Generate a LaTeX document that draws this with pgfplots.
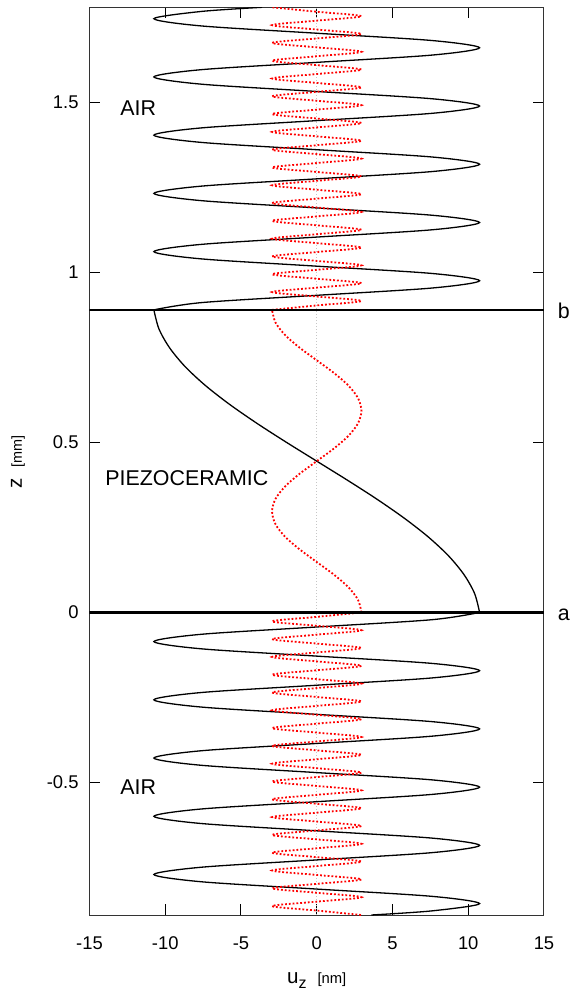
\documentclass[border=0pt]{standalone}
\usepackage{fontspec}
\setmainfont{Liberation Sans}
\usepackage{pgfplots}
\pgfplotsset{compat=1.18}

\begin{document}
\begin{tikzpicture}
\begin{axis}[
  at={(0pt,0pt)}, anchor=south west,
  scale only axis, width=227.25pt, height=453.85pt,
  xmin=-15, xmax=15, ymin=-0.89, ymax=1.78,
  xtick={-15,-10,-5,0,5,10,15},
  ytick={-0.5,0,0.5,1,1.5},
  tick align=inside, major tick length=5.3pt,
  axis line style={black!80, line width=0.5pt},
  tick style={black, line width=0.5pt},
  /pgf/number format/assume math mode=true,
  tick label style={font=\fontsize{9.2}{11}\selectfont, inner sep=0pt},
  xticklabel style={anchor=north, yshift=-10.5pt},
  yticklabel style={anchor=east, xshift=-5.3pt},
  reddot/.style={red, line width=0.9pt, dash pattern=on 0.9pt off 1.0pt, smooth},
]
% zero reference
\addplot[gray!45, line width=0.5pt, dash pattern=on 0.5pt off 1pt] coordinates {(0,-0.89) (0,1.78)};

% displacement amplitude, upper air layer
\addplot[black, line width=0.65pt, smooth] coordinates {
(-10.75,0.8900) (-7.60,0.9114) (0,0.9328) (7.60,0.9542) (10.75,0.9757) (7.60,0.9971) (0,1.0185) (-7.60,1.0399)
(-10.75,1.0613) (-7.60,1.0827) (0,1.1041) (7.60,1.1255) (10.75,1.1470) (7.60,1.1684) (0,1.1898) (-7.60,1.2112)
(-10.75,1.2326) (-7.60,1.2540) (0,1.2754) (7.60,1.2968) (10.75,1.3183) (7.60,1.3397) (0,1.3611) (-7.60,1.3825)
(-10.75,1.4039) (-7.60,1.4253) (0,1.4467) (7.60,1.4681) (10.75,1.4896) (7.60,1.5110) (0,1.5324) (-7.60,1.5538)
(-10.75,1.5752) (-7.60,1.5966) (0,1.6180) (7.60,1.6394) (10.75,1.6609) (7.60,1.6823) (0,1.7037) (-7.60,1.7251)
(-10.75,1.7465) (-7.60,1.7679) (-3.60,1.7800)};

% piezoceramic layer
\addplot[black, line width=0.65pt, smooth] coordinates {
(10.75,0) (10.42,0.0556) (9.72,0.1113) (8.69,0.1669) (7.35,0.2225) (5.75,0.2781) (3.95,0.3338) (2.01,0.3894)
(0,0.4450) (-2.01,0.5006) (-3.95,0.5563) (-5.75,0.6119) (-7.35,0.6675) (-8.69,0.7231) (-9.72,0.7788)
(-10.42,0.8344) (-10.75,0.8900)};

% lower air layer
\addplot[black, line width=0.65pt, smooth] coordinates {
(10.75,0) (7.60,-0.0214) (0,-0.0428) (-7.60,-0.0642) (-10.75,-0.0857) (-7.60,-0.1071) (0,-0.1285) (7.60,-0.1499)
(10.75,-0.1713) (7.60,-0.1927) (0,-0.2141) (-7.60,-0.2355) (-10.75,-0.2570) (-7.60,-0.2784) (0,-0.2998) (7.60,-0.3212)
(10.75,-0.3426) (7.60,-0.3640) (0,-0.3854) (-7.60,-0.4068) (-10.75,-0.4283) (-7.60,-0.4497) (0,-0.4711) (7.60,-0.4925)
(10.75,-0.5139) (7.60,-0.5353) (0,-0.5567) (-7.60,-0.5781) (-10.75,-0.5996) (-7.60,-0.6210) (0,-0.6424) (7.60,-0.6638)
(10.75,-0.6852) (7.60,-0.7066) (0,-0.7280) (-7.60,-0.7494) (-10.75,-0.7709) (-7.60,-0.7923) (0,-0.8137) (7.60,-0.8351)
(10.75,-0.8565) (7.60,-0.8779) (3.60,-0.8900)};

% second series (red dotted)
\addplot[reddot] coordinates {
(-2.95,0.8900) (0,0.9031) (2.95,0.9162) (0,0.9293) (-2.95,0.9424) (0,0.9554) (2.95,0.9685) (0,0.9816)
(-2.95,0.9947) (0,1.0078) (2.95,1.0209) (0,1.0340) (-2.95,1.0471) (0,1.0601) (2.95,1.0732) (0,1.0863)
(-2.95,1.0994) (0,1.1125) (2.95,1.1256) (0,1.1387) (-2.95,1.1518) (0,1.1649) (2.95,1.1779) (0,1.1910)
(-2.95,1.2041) (0,1.2172) (2.95,1.2303) (0,1.2434) (-2.95,1.2565) (0,1.2696) (2.95,1.2826) (0,1.2957)
(-2.95,1.3088) (0,1.3219) (2.95,1.3350) (0,1.3481) (-2.95,1.3612) (0,1.3743) (2.95,1.3874) (0,1.4004)
(-2.95,1.4135) (0,1.4266) (2.95,1.4397) (0,1.4528) (-2.95,1.4659) (0,1.4790) (2.95,1.4921) (0,1.5051)
(-2.95,1.5182) (0,1.5313) (2.95,1.5444) (0,1.5575) (-2.95,1.5706) (0,1.5837) (2.95,1.5968) (0,1.6099)
(-2.95,1.6229) (0,1.6360) (2.95,1.6491) (0,1.6622) (-2.95,1.6753) (0,1.6884) (2.95,1.7015) (0,1.7146)
(-2.95,1.7276) (0,1.7407) (2.95,1.7538) (0,1.7669) (-2.95,1.7800)};

\addplot[reddot] coordinates {
(2.95,0) (2.725,0.0371) (2.086,0.0742) (1.129,0.1113) (0,0.1483) (-1.129,0.1854) (-2.086,0.2225) (-2.725,0.2596)
(-2.95,0.2967) (-2.725,0.3338) (-2.086,0.3708) (-1.129,0.4079) (0,0.4450) (1.129,0.4821) (2.086,0.5192) (2.725,0.5562)
(2.95,0.5933) (2.725,0.6304) (2.086,0.6675) (1.129,0.7046) (0,0.7417) (-1.129,0.7787) (-2.086,0.8158) (-2.725,0.8529)
(-2.95,0.8900)};

\addplot[reddot] coordinates {
(2.95,0) (0,-0.0131) (-2.95,-0.0262) (0,-0.0393) (2.95,-0.0524) (0,-0.0654) (-2.95,-0.0785) (0,-0.0916)
(2.95,-0.1047) (0,-0.1178) (-2.95,-0.1309) (0,-0.1440) (2.95,-0.1571) (0,-0.1701) (-2.95,-0.1832) (0,-0.1963)
(2.95,-0.2094) (0,-0.2225) (-2.95,-0.2356) (0,-0.2487) (2.95,-0.2618) (0,-0.2749) (-2.95,-0.2879) (0,-0.3010)
(2.95,-0.3141) (0,-0.3272) (-2.95,-0.3403) (0,-0.3534) (2.95,-0.3665) (0,-0.3796) (-2.95,-0.3926) (0,-0.4057)
(2.95,-0.4188) (0,-0.4319) (-2.95,-0.4450) (0,-0.4581) (2.95,-0.4712) (0,-0.4843) (-2.95,-0.4974) (0,-0.5104)
(2.95,-0.5235) (0,-0.5366) (-2.95,-0.5497) (0,-0.5628) (2.95,-0.5759) (0,-0.5890) (-2.95,-0.6021) (0,-0.6151)
(2.95,-0.6282) (0,-0.6413) (-2.95,-0.6544) (0,-0.6675) (2.95,-0.6806) (0,-0.6937) (-2.95,-0.7068) (0,-0.7198)
(2.95,-0.7329) (0,-0.7460) (-2.95,-0.7591) (0,-0.7722) (2.95,-0.7853) (0,-0.7984) (-2.95,-0.8115) (0,-0.8246)
(2.95,-0.8376) (0,-0.8507) (-2.95,-0.8638) (0,-0.8769) (2.95,-0.8900)};

% layer interfaces
\addplot[black, line width=1.35pt] coordinates {(-15,0) (15,0)};
\addplot[black, line width=1.35pt] coordinates {(-15,0.89) (15,0.89)};

\node[anchor=west, inner sep=0pt, font=\fontsize{10.7}{12}\selectfont] at (axis cs:-12.99,1.4847) {AIR};
\node[anchor=west, inner sep=0pt, font=\fontsize{10.7}{12}\selectfont] at (axis cs:-12.99,-0.515) {AIR};
\node[anchor=west, inner sep=0pt, font=\fontsize{10.7}{12}\selectfont] at (axis cs:-13.98,0.394) {PIEZOCERAMIC};

\coordinate (pa) at (axis cs:15,0);
\coordinate (pb) at (axis cs:15,0.89);
\end{axis}

\node[anchor=base west, inner sep=0pt, font=\fontsize{10.7}{12}\selectfont] at ([xshift=6.8pt,yshift=-4.15pt]pb) {b};
\node[anchor=base west, inner sep=0pt, font=\fontsize{10.7}{12}\selectfont] at ([xshift=6.8pt,yshift=-4.15pt]pa) {a};

\node[anchor=base, inner sep=0pt, font=\fontsize{10.3}{12}\selectfont] at (113.6pt,-34pt)
  {u\raisebox{-0.25em}{\fontsize{8}{9}\selectfont z}\hspace{5.5pt}{\fontsize{7.4}{9}\selectfont[nm]}};
\node[rotate=90, anchor=base, inner sep=0pt, font=\fontsize{10.3}{12}\selectfont] at (-33.75pt,226.5pt)
  {z\hspace{5.5pt}{\fontsize{7.2}{9}\selectfont[mm]}};

\pgfresetboundingbox
\path[use as bounding box] (-44.75pt,-39pt) rectangle (239.75pt,457.5pt);
\end{tikzpicture}
\end{document}
